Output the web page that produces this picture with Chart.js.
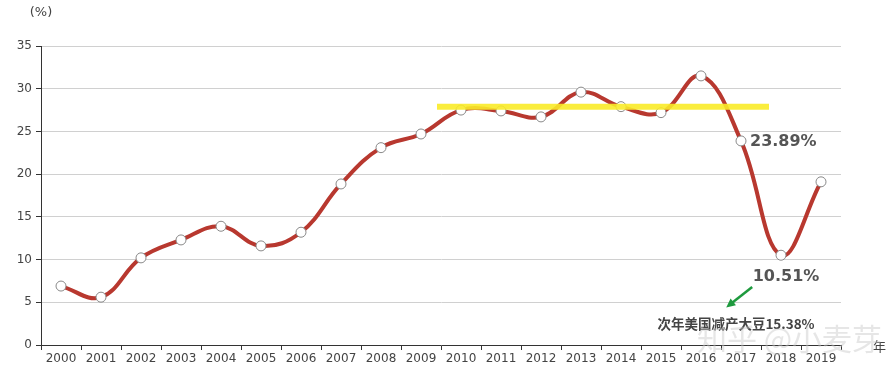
<!DOCTYPE html>
<html>
<head>
<meta charset="utf-8">
<script src="https://cdn.jsdelivr.net/npm/chart.js@4"></script>
<style>
  html, body { margin: 0; padding: 0; background: #fff; }
  #wrap { width: 889px; height: 376px; position: relative; }
</style>
</head>
<body>
<div id="wrap"><canvas id="chart" width="889" height="376"></canvas></div>
<script>
/* 大豆比例 折线图 */

const years = ['2000','2001','2002','2003','2004','2005','2006','2007','2008','2009',
               '2010','2011','2012','2013','2014','2015','2016','2017','2018','2019'];
const ratio = [6.9, 5.6, 10.2, 12.3, 13.9, 11.6, 13.2, 18.85, 23.1, 24.7,
               27.5, 27.4, 26.7, 29.6, 27.9, 27.2, 31.5, 23.89, 10.51, 19.1];
// 黄色平台线: 起止位置(类目索引) 与 数值
const plateauX = [9.4, 17.7];
const plateauY = [27.9, 27.9];
const yTicks = [0, 5, 10, 15, 20, 25, 30, 35];

// 标注
const labels23 = { idx: 17, val: 23.89, text: '23.89%' };
const labels10 = { idx: 18, val: 10.51, text: '10.51%' };
const noteText = { idx: 16.875, val: 2.45, text: '次年美国减产大豆15.38%' };
const arrowFrom = [17.28, 6.8];
const arrowTo = [16.63, 4.4];

const annotatePlugin = {
    id: 'annotate',
    afterDatasetsDraw(chart) {
        const c = chart.ctx;
        const xs = chart.scales.x2;
        const ys = chart.scales.y;
        const px = i => xs.getPixelForValue(i);
        const py = v => ys.getPixelForValue(v);
        c.save();
        c.fillStyle = '#555';
        c.font = 'bold 16px "DejaVu Sans", "Noto Sans", sans-serif';
        c.textBaseline = 'middle';
        c.textAlign = 'left';
        c.fillText(labels23.text, px(labels23.idx) + 9, py(labels23.val) + 1);
        c.textAlign = 'center';
        c.fillText(labels10.text, px(labels10.idx) + 5, py(labels10.val) + 22);

        c.fillStyle = '#444';
        c.font = 'bold 13.5px "Noto Sans CJK SC", sans-serif';
        c.fillText(noteText.text, px(noteText.idx), py(noteText.val));

        // green arrow
        const x1 = px(arrowFrom[0]), y1 = py(arrowFrom[1]);
        const x2 = px(arrowTo[0]), y2 = py(arrowTo[1]);
        c.strokeStyle = '#1e9a3e';
        c.fillStyle = '#1e9a3e';
        c.lineWidth = 2.5;
        c.beginPath();
        c.moveTo(x1, y1);
        c.lineTo(x2 + 5, y2 - 4);
        c.stroke();
        const ang = Math.atan2(y2 - y1, x2 - x1);
        c.beginPath();
        c.moveTo(x2, y2);
        c.lineTo(x2 - 10 * Math.cos(ang - 0.45), y2 - 10 * Math.sin(ang - 0.45));
        c.lineTo(x2 - 10 * Math.cos(ang + 0.45), y2 - 10 * Math.sin(ang + 0.45));
        c.closePath();
        c.fill();

        // (%) 与 年
        c.fillStyle = '#444';
        c.font = '13px "DejaVu Sans", sans-serif';
        c.textAlign = 'center';
        c.fillText('(%)', 41, 13);
        c.font = '13px "Noto Sans CJK SC", sans-serif';
        c.textAlign = 'left';
        c.fillText('年', 873, chart.chartArea.bottom + 1);

        // 水印
        c.fillStyle = 'rgba(200,200,200,0.45)';
        c.font = '30px "Noto Sans CJK SC", sans-serif';
        c.fillText('知乎 @小麦芽', 697, chart.chartArea.bottom - 6);
        c.restore();
    }
};

new Chart(document.getElementById('chart'), {
    type: 'line',
    data: {
        labels: years,
        datasets: [
            {
                label: 'plateau',
                data: plateauX.map((x, i) => ({ x: x, y: plateauY[i] })),
                xAxisID: 'x2',
                borderColor: 'rgba(250,235,40,0.9)',
                borderWidth: 6,
                pointRadius: 0,
                fill: false,
                order: 1,
            },
            {
                label: 'ratio',
                data: ratio,
                borderColor: '#b8382f',
                borderWidth: 4,
                tension: 0.4,
                cubicInterpolationMode: 'default',
                pointRadius: 5,
                pointBackgroundColor: '#fff',
                pointBorderColor: '#888',
                pointBorderWidth: 1,
                fill: false,
                order: 2,
            },
        ]
    },
    options: {
        responsive: false,
        animation: false,
        maintainAspectRatio: false,
        layout: { padding: { top: 46, right: 48, left: 0, bottom: 0 } },
        plugins: { legend: { display: false }, tooltip: { enabled: false } },
        scales: {
            x: {
                type: 'category',
                offset: true,
                grid: { offset: true, drawOnChartArea: false, tickLength: 5, color: '#333', tickColor: '#333' },
                border: { color: '#333', width: 1 },
                ticks: { color: '#444', font: { size: 12, family: '"DejaVu Sans", sans-serif' }, maxRotation: 0, autoSkip: false, padding: 2 },
                afterFit(scale) { scale.height = 31; },
            },
            x2: {
                type: 'linear',
                display: false,
                min: -0.5,
                max: 19.5,
            },
            y: {
                min: 0,
                max: 35,
                afterBuildTicks(scale) { scale.ticks = yTicks.map(v => ({ value: v })); },
                grid: { color: '#d0d0d0', tickColor: '#333', tickLength: 5 },
                border: { color: '#333', width: 1 },
                ticks: { color: '#444', font: { size: 12, family: '"DejaVu Sans", sans-serif' }, padding: 4 },
                afterFit(scale) { scale.width = 41; },
            }
        }
    },
    plugins: [annotatePlugin]
});
</script>
</body>
</html>
